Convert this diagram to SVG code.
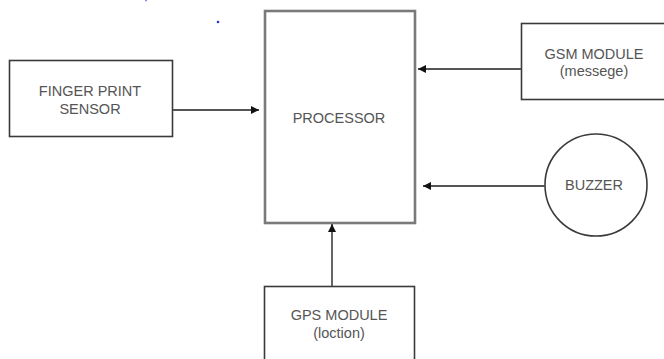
<svg xmlns="http://www.w3.org/2000/svg" width="664" height="359" viewBox="0 0 664 359">
<defs>
<style>
.box{fill:#fff;stroke:#3a3a3a;stroke-width:1.6}
.proc{fill:#fff;stroke:#7a7a7a;stroke-width:2.6}
.lbl{font-family:"Liberation Sans",Arial,sans-serif;font-size:14.5px;fill:#555;text-anchor:middle}
.conn{stroke:#555;stroke-width:1.8;fill:none;marker-end:url(#ah)}
</style>
<marker id="ah" viewBox="0 0 10 10" refX="10" refY="5" markerWidth="8" markerHeight="8" markerUnits="userSpaceOnUse" orient="auto">
<path d="M0,0 L10,5 L0,10 z" fill="#111"/>
</marker>
</defs>
<rect width="664" height="359" fill="#fff"/>
<circle cx="218" cy="22" r="1.3" fill="#2233dd"/>
<circle cx="146" cy="0.5" r="1" fill="#8888ee"/>
<g id="processor">
<rect class="proc" x="265" y="11" width="150" height="212"/>
<text class="lbl" x="339" y="122.5">PROCESSOR</text>
</g>
<g id="fingerprint">
<rect class="box" x="9.5" y="60.5" width="163" height="76"/>
<text class="lbl" x="90" y="95.5">FINGER PRINT</text>
<text class="lbl" x="90" y="113.5">SENSOR</text>
</g>
<g id="gsm">
<rect class="box" x="521.5" y="23.5" width="150" height="76"/>
<text class="lbl" x="594" y="58.5">GSM MODULE</text>
<text class="lbl" x="594" y="76">(messege)</text>
</g>
<g id="buzzer">
<circle class="box" cx="596" cy="185" r="51"/>
<text class="lbl" x="594" y="190">BUZZER</text>
</g>
<g id="gps">
<rect class="box" x="264.5" y="286.5" width="150" height="80"/>
<text class="lbl" x="339" y="320">GPS MODULE</text>
<text class="lbl" x="339" y="337.5">(loction)</text>
</g>
<g id="connectors">
<line class="conn" x1="173" y1="110" x2="259" y2="110"/>
<line class="conn" x1="521" y1="69" x2="418" y2="69"/>
<line class="conn" x1="545" y1="186" x2="423" y2="186"/>
<line class="conn" x1="332" y1="286" x2="332" y2="224"/>
</g>
</svg>
